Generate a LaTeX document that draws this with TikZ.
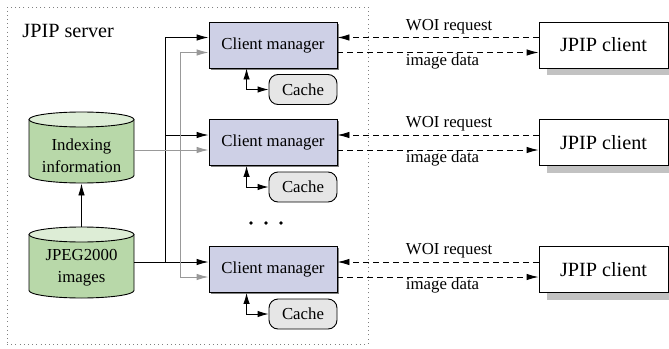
\documentclass[tikz,border=0pt]{standalone}
\usepackage{fontspec}
\setmainfont{Liberation Serif}
\newfontfamily\timesfam{Liberation Serif}
\usetikzlibrary{arrows.meta,calc,shadows}

\definecolor{mgrfill}{HTML}{CED0E6}
\definecolor{dbfill}{HTML}{B8D8A9}
\definecolor{dbtop}{HTML}{DDEDD6}
\definecolor{cachefill}{HTML}{E6E6E6}
\definecolor{linegray}{HTML}{999999}
\definecolor{shadowgray}{HTML}{C2C2C2}
\definecolor{bordergray}{HTML}{808080}

\begin{document}
\begin{tikzpicture}[x=1pt,y=-1pt,
  line width=0.9pt,
  >={Latex[length=12pt,width=6.5pt]},
  small/.style={font=\timesfam\fontsize{16.8}{22}\selectfont},
  large/.style={font=\timesfam\fontsize{20.2}{24}\selectfont},
  serverbox/.style={draw=bordergray, line width=0.9pt, dash pattern=on 1pt off 3.2pt, inner sep=0pt},
  manager/.style={draw, fill=mgrfill, minimum width=128pt, minimum height=46pt, inner sep=0pt, small,
    drop shadow={shadow xshift=1.5pt, shadow yshift=-1.5pt, fill=bordergray, opacity=1}},
  cachebox/.style={draw, fill=cachefill, rounded corners=9pt, minimum width=68pt, minimum height=30pt, inner sep=0pt, small},
  client/.style={draw, fill=white, minimum width=129pt, minimum height=46pt, inner sep=0pt, large,
    drop shadow={shadow xshift=8pt, shadow yshift=-7pt, fill=shadowgray, opacity=1}},
  dbshape/.style={minimum width=105pt, minimum height=71pt, inner sep=0pt},
  dbtext/.style={small, align=center},
  lbl/.style={small, inner sep=0pt},
  req/.style={dashed, dash pattern=on 6pt off 4pt, ->},
  graywire/.style={draw=linegray, ->, >={Latex[length=12pt,width=6.5pt]}},
  cachewire/.style={<->, >={Latex[length=11pt,width=6.5pt]}},
  dot/.style={circle, fill, inner sep=0pt, minimum size=3.6pt}
]
\useasboundingbox (0,0) rectangle (669,348);

% server frame and title
\node[serverbox, minimum width=361pt, minimum height=337pt] (server) at (187.5,175.5) {};
\node[large, anchor=base west, inner sep=0pt] (srvtitle) at (22,37) {JPIP server};

% databases (cylinders drawn by hand, nodes give the anchors)
\foreach \nm/\cy in {idx/147.5, jpg/262.5}{
  \fill[dbfill] (29,\cy-28) -- (29,\cy+28)
     arc[start angle=180, end angle=0, x radius=52.5, y radius=7.5] -- (134,\cy-28) -- cycle;
  \draw (29,\cy-28) -- (29,\cy+28)
     arc[start angle=180, end angle=0, x radius=52.5, y radius=7.5] -- (134,\cy-28);
  \draw[fill=dbtop] (81.5,\cy-28) ellipse[x radius=52.5, y radius=7.5];
  \node[dbshape] (\nm) at (81.5,\cy) {};
}
\node[dbtext] (idxtext) at (81.5,155.5) {Indexing\\information};
\node[dbtext] (jpgtext) at (81.5,268) {JPEG2000\\images};

% client managers, caches and clients
\foreach \i/\cy in {1/45, 2/142.5, 3/269.5}{
  \node[manager] (cm\i) at (273,\cy) {Client manager};
  \node[cachebox] (ca\i) at (303,\cy+44.5) {Cache};
  \node[client] (jc\i) at (603.5,\cy) {JPIP client};
  \draw[cachewire] ($(cm\i.south west)+(38,0)$) |- (ca\i.west);
  \draw[req] ([yshift=7.5pt]jc\i.west) -- ([yshift=7.5pt]cm\i.east);
  \draw[req] ([yshift=-7.5pt]cm\i.east) -- ([yshift=-7.5pt]jc\i.west);
  \node[lbl, anchor=base west] (woi\i) at ($(cm\i.east)+(68,-15)$) {WOI request};
  \node[lbl, anchor=base west] (dat\i) at ($(cm\i.east)+(68,20)$) {image data};
}

% continuation dots
\node[dot] (d1) at (251,223) {};
\node[dot] (d2) at (266,223) {};
\node[dot] (d3) at (281,223) {};

% image data feed (black)
\coordinate (blackbus) at (165,0);
\coordinate (b1) at ([yshift=7.5pt]cm1.west);
\coordinate (b2) at ([yshift=7.5pt]cm2.west);
\coordinate (b3) at ([yshift=7.5pt]cm3.west);
\draw[->] (jpg.east |- b3) -- (b3);
\draw[->] (blackbus |- b3) |- (b1);
\draw[->] (blackbus |- b2) -- (b2);

% index feed (gray)
\coordinate (graybus) at (180,0);
\coordinate (g1) at ([yshift=-7.5pt]cm1.west);
\coordinate (g2) at ([yshift=-7.5pt]cm2.west);
\coordinate (g3) at ([yshift=-7.5pt]cm3.west);
\draw[graywire] (idx.east |- g2) -- (g2);
\draw[graywire] (graybus |- g2) |- (g1);
\draw[graywire] (graybus |- g2) |- (g3);

% indexing built from images
\draw[->] (jpg.north) -- (idx.south);
\end{tikzpicture}
\end{document}
